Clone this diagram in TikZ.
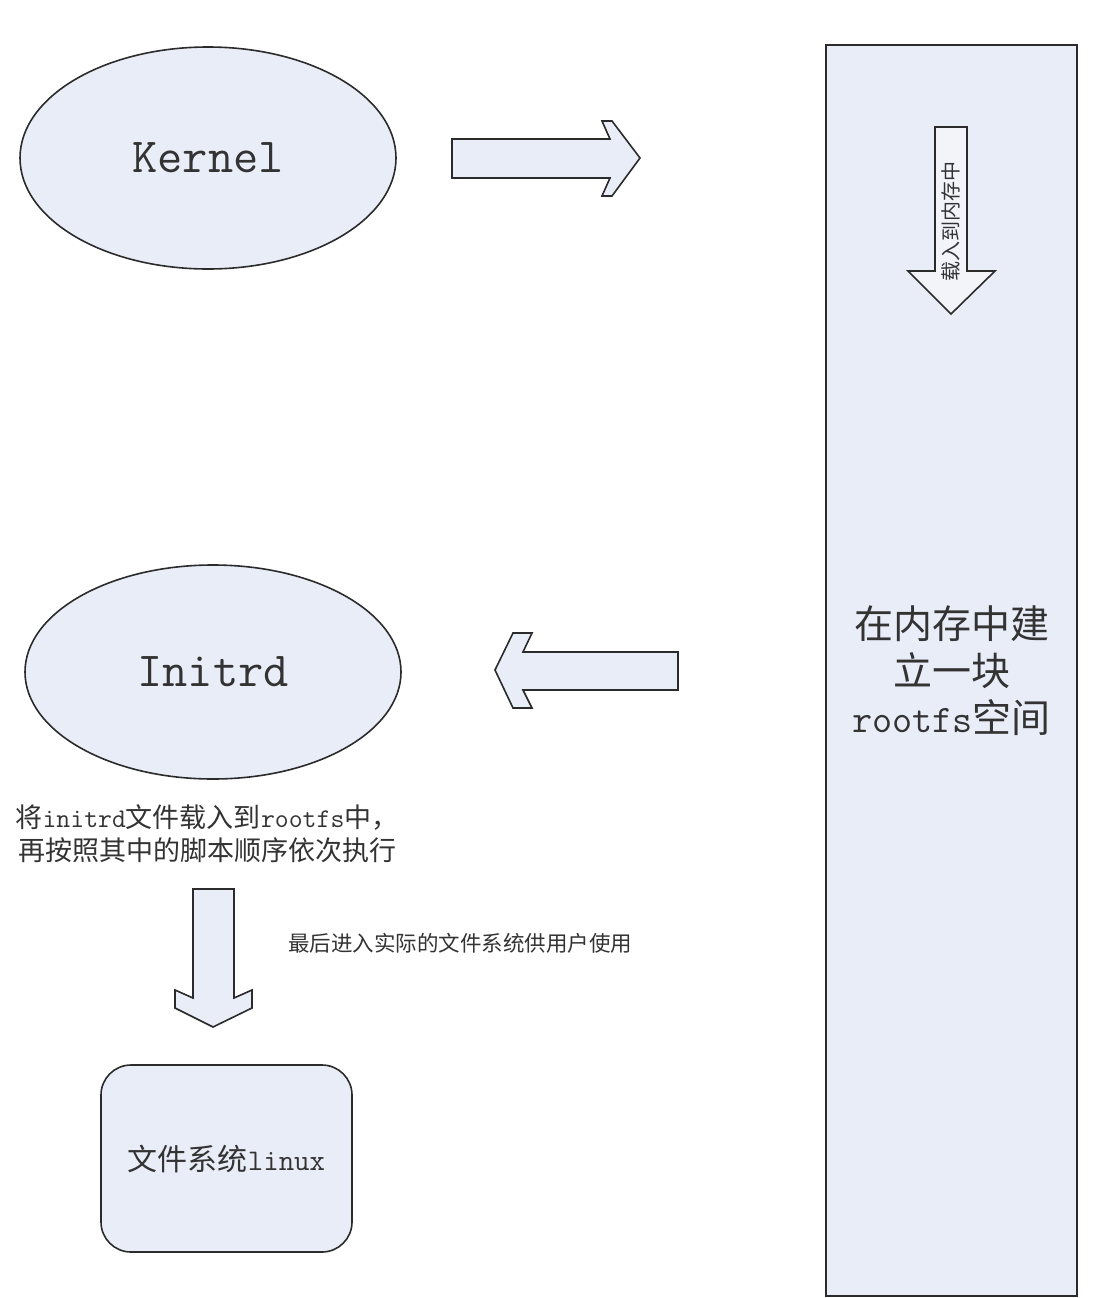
\documentclass[tikz,border=0pt]{standalone}
\usepackage{fontspec}
\usetikzlibrary{shapes.geometric}
\newfontfamily\cjk{Noto Sans CJK SC}
\definecolor{boxfill}{HTML}{E9EDF7}
\definecolor{arrowfill}{HTML}{F2F4FA}
\definecolor{edge}{HTML}{2B2B2B}
\definecolor{ink}{HTML}{333333}
\newcommand{\ml}[1]{{\ttfamily #1}}
\tikzset{
  shapebox/.style={draw=edge, line width=1.6pt, fill=boxfill, text=ink, inner sep=0pt, align=center},
  oval/.style={shapebox, ellipse, minimum width=376pt, minimum height=222pt, font=\ttfamily\fontsize{49}{56}\selectfont},
  blockarrow/.style={draw=edge, line width=1.6pt, fill=boxfill, line join=miter},
  note/.style={text=ink, inner sep=0pt, align=center},
}
\begin{document}
\begin{tikzpicture}[x=1pt, y=-1pt]
  \useasboundingbox (0,0) rectangle (1112,1298);
  % the two ovals
  \node[oval] (kernel) at (208,158) {Kernel};
  \node[oval, minimum height=214pt] (initrd) at (213,672) {Initrd};
  % memory column
  \node[shapebox, minimum width=251pt, minimum height=1251pt,
        font=\cjk\fontsize{39}{47}\selectfont] (rootfs) at (951.5,670.5)
        {在内存中建\\立一块\\\ml{rootfs}空间};
  % kernel -> column
  \draw[blockarrow] (452,139) -- (610,139) -- (602,121) -- (612,121) -- (640,158)
    -- (612,196) -- (602,196) -- (610,178) -- (452,178) -- cycle;
  % column -> initrd
  \draw[blockarrow] (678,652) -- (523,652) -- (532,633) -- (513,633) -- (495,670)
    -- (513,708) -- (532,708) -- (523,690) -- (678,690) -- cycle;
  % load arrow inside the column
  \draw[blockarrow, fill=arrowfill] (935,127) -- (967,127) -- (967,271) -- (995,271)
    -- (951,314) -- (908,271) -- (935,271) -- cycle;
  \node[note, rotate=90, font=\cjk\fontsize{20}{20}\selectfont] (load) at (951,221) {载入到内存中};
  % initrd -> file system
  \draw[blockarrow] (193,889) -- (234,889) -- (234,998) -- (252,990) -- (252,1008)
    -- (213,1027) -- (175,1008) -- (175,990) -- (193,998) -- cycle;
  \node[note, font=\cjk\fontsize{27}{33}\selectfont] (steps) at (207,834)
    {将\ml{initrd}文件载入到\ml{rootfs}中，\\再按照其中的脚本顺序依次执行};
  \node[note, anchor=west, font=\cjk\fontsize{21.5}{24}\selectfont] (enter) at (288,943)
    {最后进入实际的文件系统供用户使用};
  \node[shapebox, rounded corners=30pt, minimum width=251pt, minimum height=187pt,
        font=\cjk\fontsize{30}{36}\selectfont] (linuxfs) at (226.5,1158.5) {文件系统\ml{linux}};
\end{tikzpicture}
\end{document}
